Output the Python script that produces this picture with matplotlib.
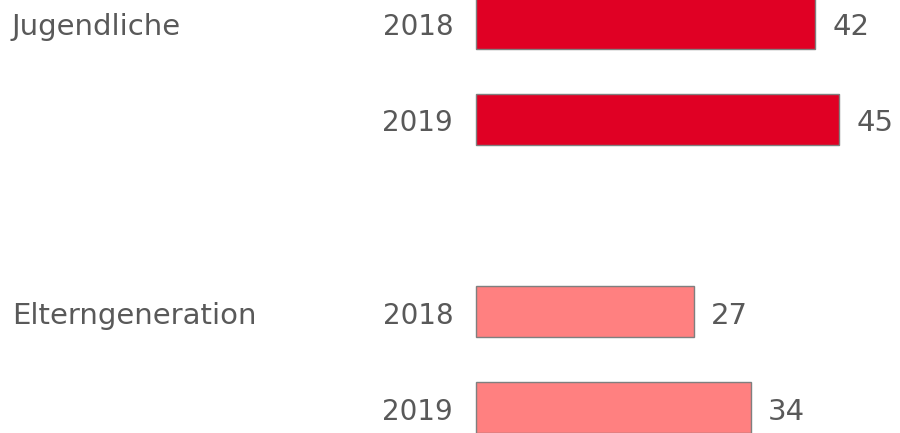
import matplotlib.pyplot as plt

plt.rcParams["font.family"] = ["DejaVu Sans"]

# Daten
gruppen = ["Jugendliche", "Elterngeneration"]
jahre = ["2018", "2019", "2018", "2019"]
werte = [42, 45, 27, 34]
positionen = [0, 1, 3, 4]
farben = ["#E00024", "#E00024", "#FF8080", "#FF8080"]
gruppen_pos = [0, 3]

textfarbe = "#595959"

fig = plt.figure(figsize=(9, 4.33), dpi=100)
ax = fig.add_axes([0, 0, 1, 1])

ax.barh(positionen, werte, height=0.53, color=farben, edgecolor="#7f7f7f", linewidth=1)

for p, j, w in zip(positionen, jahre, werte):
    # Jahr links vom Balken
    ax.annotate(j, xy=(0, p), xytext=(-23, -4), textcoords="offset pixels",
                ha="right", va="center", fontsize=20, color=textfarbe)
    # Wert rechts vom Balken
    ax.annotate(str(w), xy=(w, p), xytext=(17, -4), textcoords="offset pixels",
                ha="left", va="center", fontsize=21, color=textfarbe)

for g, p in zip(gruppen, gruppen_pos):
    ax.annotate(g, xy=(0, p), xycoords=("axes fraction", "data"),
                xytext=(12, -4), textcoords="offset pixels",
                ha="left", va="center", fontsize=21, color=textfarbe)

ax.set_xlim(-59.0, 52.5)
ax.set_ylim(4.26, -0.24)
ax.axis("off")

plt.savefig("out.png", dpi=100)
plt.close()
